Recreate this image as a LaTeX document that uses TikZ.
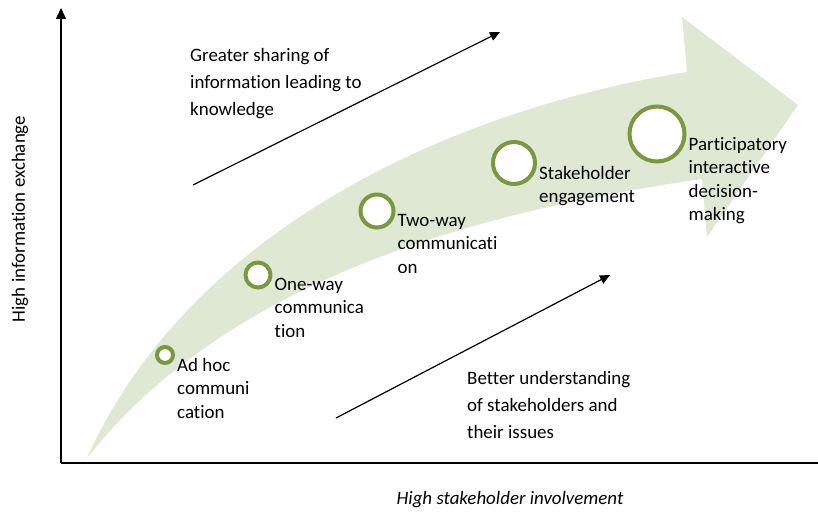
\documentclass[tikz,border=0pt]{standalone}
\usepackage{fontspec}
\setmainfont{Carlito}[Ligatures=NoCommon]
\definecolor{bandcolor}{RGB}{222,232,211}
\definecolor{ringcolor}{RGB}{122,152,62}
\usetikzlibrary{arrows,arrows.meta,positioning}
\tikzset{
	stage/.style={
		circle,
		line width=4bp,
		draw=ringcolor,
		fill=white,
		inner sep=0pt
	},
	stagelabel/.style={
		anchor=north west,
		align=left,
		inner sep=0pt,
		xshift=2bp,
		yshift=-3bp,
		font=\fontsize{19}{23.5}\selectfont
	},
	note/.style={
		anchor=north west,
		align=left,
		inner sep=0pt,
		font=\fontsize{19}{27}\selectfont
	},
	axis/.style={
		draw=black,
		line width=1.5bp
	},
	arrow/.style={
		draw=black,
		line width=1.2bp,
		-{Triangle[length=10bp,width=9bp]}
	}
}

\begin{document}
\begin{tikzpicture}[x=1bp, y=-1bp]
		\useasboundingbox (0,0) rectangle (818,514);
		\fill[bandcolor] (87,458) .. controls (190,230) and (450,110) .. (687,72) -- (682,17) -- (798,105) -- (707,237) -- (702,179) .. controls (450,215) and (220,290) .. (87,458) -- cycle;
		\coordinate (origin) at (61,463);
		\coordinate (ytop) at (61,8);
		\coordinate (xend) at (818,463);
		\draw [axis,-{Triangle[length=11bp,width=10bp]}] (origin) -- (ytop);
		\draw [axis] (origin) -- (xend);
		\node (ylabel) [rotate=90, font=\fontsize{19}{23}\selectfont] at (20,219) {High information exchange};
		\node (xlabel) [font=\fontsize{19}{23}\selectfont\itshape] at (510,500) {High stakeholder involvement};
		\node (adhoc) [stage, minimum size=16bp] at (165,355) {};
		\node (oneway) [stage, minimum size=25bp] at (258,275) {};
		\node (twoway) [stage, minimum size=33bp] at (377,211) {};
		\node (engage) [stage, minimum size=42bp] at (514,163) {};
		\node (decide) [stage, minimum size=55bp] at (657,134) {};
		\node (adhoctext) [stagelabel] at (adhoc.east) {Ad hoc\\communi\\cation};
		\node (onewaytext) [stagelabel] at (oneway.east) {One-way\\communica\\tion};
		\node (twowaytext) [stagelabel] at (twoway.east) {Two-way\\communicati\\on};
		\node (engagetext) [stagelabel] at (engage.east) {Stakeholder\\engagement};
		\node (decidetext) [stagelabel] at (decide.east) {Participatory\\interactive\\decision-\\making};
		\coordinate (sharefrom) at (193,185);
		\coordinate (shareto) at (500,32);
		\coordinate (knowfrom) at (336,418);
		\coordinate (knowto) at (610,275);
		\draw [arrow] (sharefrom) -- (shareto);
		\draw [arrow] (knowfrom) -- (knowto);
		\node (sharing) [note] at (190,48) {Greater sharing of\\information leading to\\knowledge};
		\node (understanding) [note] at (467,371) {Better understanding\\of stakeholders and\\their issues};
\end{tikzpicture}
\end{document}
